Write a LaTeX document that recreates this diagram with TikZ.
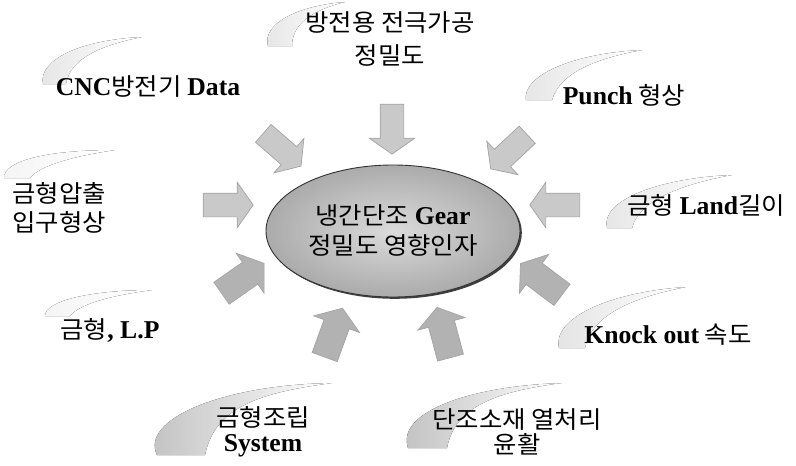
\documentclass[tikz,border=0pt]{standalone}
\usepackage{fontspec}
\setmainfont[FakeStretch=1.06]{Noto Sans CJK KR}
\newfontfamily\lat[Scale=1.07]{Liberation Serif}
\usetikzlibrary{shapes.arrows,shapes.geometric,shadows}
\newcommand{\en}[1]{{\lat\bfseries #1}}
\begin{document}
\begin{tikzpicture}[x=1pt,y=-1pt,
  lbl/.style={inner sep=0pt, align=center, font=\fontsize{24}{#1}\selectfont},
  lbl/.default=30,
  barrow/.style={single arrow, inner sep=0pt, inner ysep=11.5pt, minimum height=50pt,
    single arrow head extend=11pt, single arrow tip angle=110, draw=gray!72, line width=0.7pt},
  lightarrow/.style={barrow, fill=gray!42},
  darkarrow/.style={barrow, inner ysep=13pt, minimum height=52pt, fill=gray!60},
  swoosh/.style={left color=gray!#1, right color=white, draw=none},
  core/.style={ellipse, minimum width=254pt, minimum height=132pt, inner color=gray!28,
    outer color=gray!66, draw=gray!40!black, line width=0.9pt,
    drop shadow={shadow xshift=1.8pt, shadow yshift=-1.8pt, fill=black, opacity=0.75},
    align=center, font=\fontsize{24}{30}\selectfont}
]
\useasboundingbox (0,0) rectangle (796,466);
\fill[white] (0,0) rectangle (796,466);

% background swooshes (comet-like shapes fading to the right)
\fill[swoosh=20] (268,46) .. controls (262,25) and (295,6) .. (345,2) .. controls (312,10) and (292,24) .. (292,46) -- cycle;
\fill[swoosh=20] (43,84) .. controls (38,60) and (80,40) .. (142,37) .. controls (102,45) and (70,58) .. (66,84) -- cycle;
\fill[swoosh=20] (526,100) .. controls (522,75) and (575,53) .. (642,50) .. controls (598,58) and (560,72) .. (552,100) -- cycle;
\fill[swoosh=8] (4,178) .. controls (4,160) and (50,150) .. (115,150) .. controls (75,156) and (40,165) .. (30,178) -- cycle;
\fill[swoosh=20] (607,228) .. controls (600,200) and (660,178) .. (732,175) .. controls (688,183) and (640,198) .. (632,228) -- cycle;
\fill[swoosh=8] (45,316) .. controls (45,300) and (95,290) .. (152,290) .. controls (115,295) and (80,303) .. (70,316) -- cycle;
\fill[swoosh=22] (559,348) .. controls (552,318) and (610,292) .. (686,287) .. controls (640,296) and (592,312) .. (585,348) -- cycle;
\fill[swoosh=50] (157,455) .. controls (140,420) and (220,385) .. (332,383) .. controls (265,392) and (215,405) .. (205,455) -- cycle;
\fill[swoosh=50] (408,448) .. controls (396,412) and (470,386) .. (562,383) .. controls (500,391) and (455,405) .. (447,448) -- cycle;

% centre ellipse
\node[core] (core) at (393,231) {냉간단조 \en{Gear}\\정밀도 영향인자};

% arrows
\node[lightarrow, rotate=-90] (atop) at (392,125) {};
\node[lightarrow, rotate=-41] (aul) at (279,147) {};
\node[lightarrow, rotate=-137] (aur) at (512,149) {};
\node[lightarrow, rotate=0] (al) at (224,205) {};
\node[lightarrow, rotate=180] (ar) at (559,205) {};
\node[darkarrow, rotate=35] (all) at (239,281) {};
\node[darkarrow, rotate=143] (alr) at (545,282) {};
\node[darkarrow, rotate=70] (abl) at (332,337) {};
\node[darkarrow, rotate=105] (abr) at (445,337) {};

% labels
\node[lbl=33] (ltop) at (390,39) {방전용 전극가공\\정밀도};
\node[lbl] (lcnc) at (148,87) {\en{CNC}방전기 \en{Data}};
\node[lbl] (lpunch) at (624,95) {\en{Punch} 형상};
\node[lbl=29, align=left, anchor=west] (lleft) at (12,208) {금형압출\\입구형상};
\node[lbl] (lland) at (706,205) {금형 \en{Land}길이};
\node[lbl] (llp) at (110,330) {금형\en{, L.P}};
\node[lbl] (lknock) at (668,335) {\en{Knock out} 속도};
\node[lbl=25] (lasm) at (263,432) {금형조립\\\en{System}};
\node[lbl=25] (lheat) at (517,432) {단조소재 열처리\\윤활};
\end{tikzpicture}
\end{document}
